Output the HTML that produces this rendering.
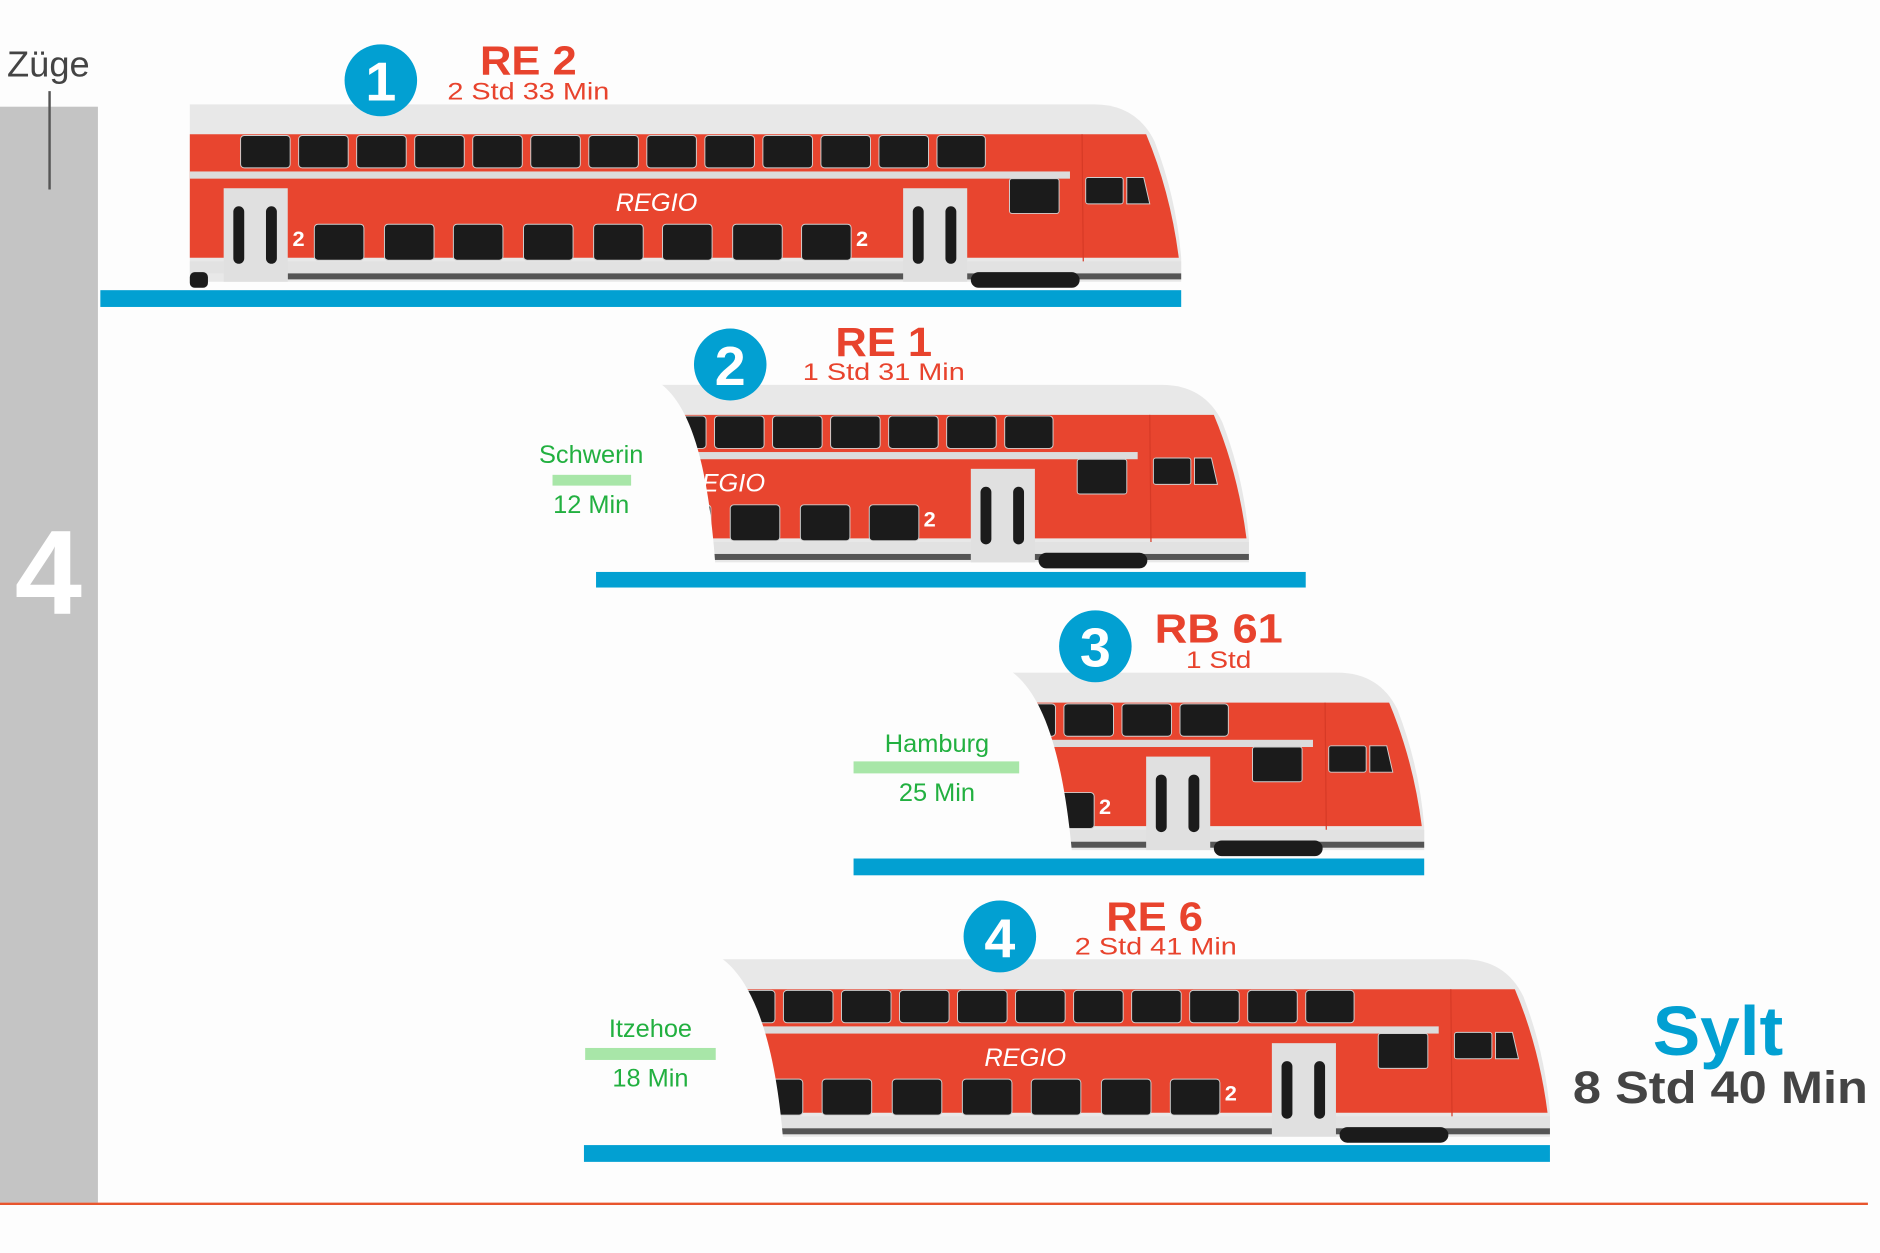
<!DOCTYPE html>
<html><head><meta charset="utf-8"><style>
html,body{margin:0;padding:0;background:#fdfdfd;}
svg{display:block;}
text{font-family:"Liberation Sans Narrow","Liberation Sans",sans-serif;}
</style></head><body>
<svg width="1880" height="1253" viewBox="0 0 1555 1045" preserveAspectRatio="none" xmlns="http://www.w3.org/2000/svg">
<defs>
<g id="train">
  <path d="M157,87 H905 Q940,87 955,118 Q973,165 977,215 V235 H157 Z" fill="#e8e8e8"/>
  <path d="M157,112 H948 Q968,160 975,215 H157 Z" fill="#e8452f"/>
  <rect x="157" y="143" width="728" height="6" fill="#dcdcdc"/>
  <rect x="157" y="218" width="820" height="10" fill="#e2e2e2"/>
  <rect x="238" y="228" width="739" height="5" fill="#555"/>
  <line x1="895" y1="112" x2="896" y2="218" stroke="#d63a26" stroke-width="1"/>
  <g fill="#1b1b1b" stroke="#cfcfcf" stroke-width="0.8">
    <rect x="199" y="113" width="41" height="27" rx="3"/>
    <rect x="247" y="113" width="41" height="27" rx="3"/>
    <rect x="295" y="113" width="41" height="27" rx="3"/>
    <rect x="343" y="113" width="41" height="27" rx="3"/>
    <rect x="391" y="113" width="41" height="27" rx="3"/>
    <rect x="439" y="113" width="41" height="27" rx="3"/>
    <rect x="487" y="113" width="41" height="27" rx="3"/>
    <rect x="535" y="113" width="41" height="27" rx="3"/>
    <rect x="583" y="113" width="41" height="27" rx="3"/>
    <rect x="631" y="113" width="41" height="27" rx="3"/>
    <rect x="679" y="113" width="41" height="27" rx="3"/>
    <rect x="727" y="113" width="41" height="27" rx="3"/>
    <rect x="775" y="113" width="40" height="27" rx="3"/>
    <rect x="260" y="187" width="41" height="30" rx="3"/>
    <rect x="318" y="187" width="41" height="30" rx="3"/>
    <rect x="375" y="187" width="41" height="30" rx="3"/>
    <rect x="433" y="187" width="41" height="30" rx="3"/>
    <rect x="491" y="187" width="41" height="30" rx="3"/>
    <rect x="548" y="187" width="41" height="30" rx="3"/>
    <rect x="606" y="187" width="41" height="30" rx="3"/>
    <rect x="663" y="187" width="41" height="30" rx="3"/>
    <rect x="835" y="149" width="41" height="29" rx="2"/>
    <rect x="898" y="148" width="31" height="22" rx="2"/>
    <path d="M932,148 H946 L951,170 H932 Z"/>
  </g>
  <rect x="185" y="157" width="53" height="78" fill="#e0e0e0"/>
  <rect x="747" y="157" width="53" height="78" fill="#e0e0e0"/>
  <g fill="#1b1b1b">
    <rect x="193" y="172" width="9" height="48" rx="4.5"/>
    <rect x="220" y="172" width="9" height="48" rx="4.5"/>
    <rect x="755" y="172" width="9" height="48" rx="4.5"/>
    <rect x="782" y="172" width="9" height="48" rx="4.5"/>
    <rect x="803" y="227" width="90" height="13" rx="6.5"/>
    <rect x="157" y="227" width="15" height="13" rx="4"/>
  </g>
  <text x="543" y="176" fill="#fff" font-size="21" font-style="italic" text-anchor="middle">REGIO</text>
  <text x="247" y="205" fill="#fff" font-size="18" font-weight="bold" text-anchor="middle">2</text>
  <text x="713" y="205" fill="#fff" font-size="18" font-weight="bold" text-anchor="middle">2</text>
</g>
</defs>

<!-- left axis -->
<rect x="0" y="89" width="81" height="914" fill="#c4c4c4"/>
<text x="40" y="64" font-size="30" fill="#444" text-anchor="middle">Züge</text>
<line x1="41" y1="76" x2="41" y2="158" stroke="#555" stroke-width="2"/>
<text x="40" y="512" font-size="100" font-weight="bold" fill="#fff" text-anchor="middle">4</text>
<line x1="0" y1="1004" x2="1545" y2="1004" stroke="#e8552d" stroke-width="2"/>

<!-- train 1 -->
<use href="#train"/>
<rect x="83" y="242" width="894" height="14" fill="#02a0d2"/>

<!-- train 2 -->
<use href="#train" transform="translate(56,234)"/>
<path d="M150,312 H530 C565,321 585,370 592,476 H150 Z" fill="#fdfdfd"/>
<rect x="493" y="477" width="587" height="13" fill="#02a0d2"/>

<!-- train 3 -->
<use href="#train" transform="translate(201,474)"/>
<path d="M300,552 H820 C855,561 878,610 887,715 H300 Z" fill="#fdfdfd"/>
<rect x="706" y="716" width="472" height="14" fill="#02a0d2"/>

<!-- train 4 -->
<use href="#train" transform="translate(305,713)"/>
<path d="M400,791 H580 C615,800 640,850 648,954 H400 Z" fill="#fdfdfd"/>
<rect x="483" y="955" width="799" height="14" fill="#02a0d2"/>

<!-- badges -->
<g font-weight="bold" text-anchor="middle">
  <circle cx="315" cy="67" r="30" fill="#02a0d2"/><text x="315" y="84" font-size="46" fill="#fff">1</text>
  <circle cx="604" cy="304" r="30" fill="#02a0d2"/><text x="604" y="321" font-size="46" fill="#fff">2</text>
  <circle cx="906" cy="539" r="30" fill="#02a0d2"/><text x="906" y="556" font-size="46" fill="#fff">3</text>
  <circle cx="827" cy="781" r="30" fill="#02a0d2"/><text x="827" y="798" font-size="46" fill="#fff">4</text>
  <g fill="#e8432d" font-size="34">
    <text x="437" y="62" textLength="80" lengthAdjust="spacingAndGlyphs">RE 2</text>
    <text x="731" y="297" textLength="80" lengthAdjust="spacingAndGlyphs">RE 1</text>
    <text x="1008" y="536" textLength="106" lengthAdjust="spacingAndGlyphs">RB 61</text>
    <text x="955" y="776" textLength="80" lengthAdjust="spacingAndGlyphs">RE 6</text>
  </g>
</g>
<g fill="#e8432d" font-size="20" text-anchor="middle">
  <text x="437" y="83" textLength="134" lengthAdjust="spacingAndGlyphs">2 Std 33 Min</text>
  <text x="731" y="317" textLength="134" lengthAdjust="spacingAndGlyphs">1 Std 31 Min</text>
  <text x="1008" y="557" textLength="54" lengthAdjust="spacingAndGlyphs">1 Std</text>
  <text x="956" y="796" textLength="134" lengthAdjust="spacingAndGlyphs">2 Std 41 Min</text>
</g>

<!-- green stations -->
<g fill="#22b040" font-size="21" text-anchor="middle">
  <text x="489" y="386">Schwerin</text>
  <text x="489" y="428">12 Min</text>
  <text x="775" y="627">Hamburg</text>
  <text x="775" y="668">25 Min</text>
  <text x="538" y="865">Itzehoe</text>
  <text x="538" y="906">18 Min</text>
</g>
<rect x="457" y="396" width="65" height="9" fill="#a8e6a8"/>
<rect x="706" y="635" width="137" height="10" fill="#a8e6a8"/>
<rect x="484" y="874" width="108" height="10" fill="#a8e6a8"/>

<!-- Sylt -->
<text x="1421" y="880" font-size="58" font-weight="bold" fill="#02a0d2" text-anchor="middle" textLength="108" lengthAdjust="spacingAndGlyphs">Sylt</text>
<text x="1423" y="920" font-size="38" font-weight="bold" fill="#444" text-anchor="middle" textLength="244" lengthAdjust="spacingAndGlyphs">8 Std 40 Min</text>
</svg>
</body></html>
